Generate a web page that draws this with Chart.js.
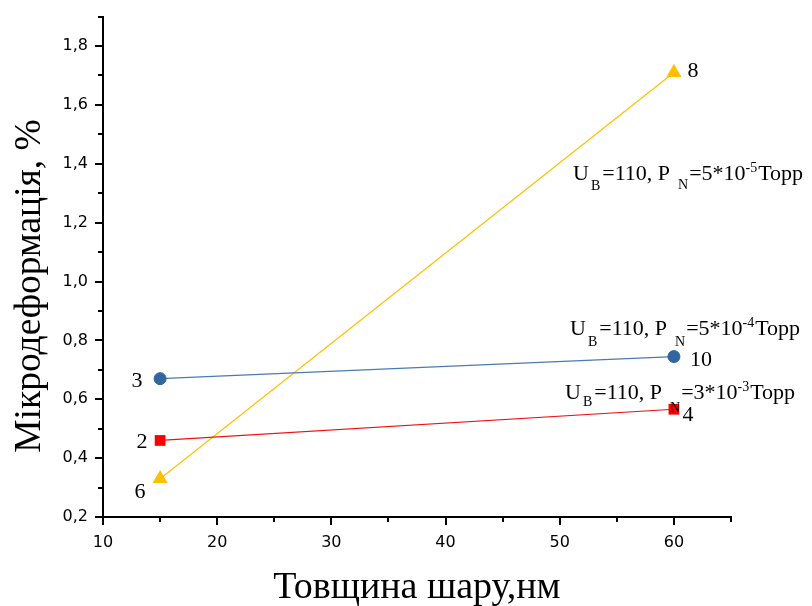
<!DOCTYPE html>
<html>
<head>
<meta charset="utf-8">
<script src="https://cdn.jsdelivr.net/npm/chart.js@4.4.1/dist/chart.umd.min.js"></script>
<style>
  body { margin: 0; background: #fff; }
  canvas { display: block; }
</style>
</head>
<body>
<canvas id="chart" width="812" height="606"></canvas>
<script>
// thickness of the layer, nm
const thickness = [15, 60];
// microstrain, % for each pressure
const strainP5e4 = [0.67, 0.745];
const strainP3e3 = [0.46, 0.566];
const strainP5e5 = [0.33, 1.71];
// sample numbers written next to the points
const labelsP5e4 = ['3', '10'];
const labelsP3e3 = ['2', '4'];
const labelsP5e5 = ['6', '8'];

const xTicks = [10, 20, 30, 40, 50, 60];
const xMinor = [15, 25, 35, 45, 55, 65];
const yTicks = [0.2, 0.4, 0.6, 0.8, 1.0, 1.2, 1.4, 1.6, 1.8];
const yMinor = [0.3, 0.5, 0.7, 0.9, 1.1, 1.3, 1.5, 1.7, 1.9];

const serif = '"Liberation Serif", "Times New Roman", serif';
const sans = '"DejaVu Sans", Arial, sans-serif';

function toPoints(ys) {
    return thickness.map((x, i) => ({ x: x, y: ys[i] }));
}

// offsets of the sample numbers from their points
const numOffsets = {
    0: [[-23, 8], [27, 9]],
    1: [[-18, 8], [14, 12]],
    2: [[-20, 19], [19, 4]]
};
const numLabels = [labelsP5e4, labelsP3e3, labelsP5e5];

// condition captions: U_B=110, P_N=...
const captions = [
    { x: 573, y: 180, pow: '-5', mant: '5', subB: 10, subN: 9 },
    { x: 570, y: 335, pow: '-4', mant: '5', subB: 11, subN: 11 },
    { x: 565, y: 399, pow: '-3', mant: '3', subB: 7, subN: 13 }
];

function drawRich(ctx, x, y, segs) {
    segs.forEach(s => {
        x += s.gap || 0;
        const small = s.sub !== undefined || s.sup !== undefined;
        ctx.font = (small ? '14px ' : '22px ') + serif;
        const dy = s.sub !== undefined ? s.sub : (s.sup !== undefined ? s.sup : 0);
        ctx.fillText(s.t, x, y + dy);
        x += ctx.measureText(s.t).width;
    });
}

const extras = {
    id: 'extras',
    afterDraw(chart) {
        const ctx = chart.ctx;
        const xs = chart.scales.x;
        const ys = chart.scales.y;
        ctx.save();

        // minor ticks
        ctx.strokeStyle = '#000';
        ctx.lineWidth = 2;
        ctx.beginPath();
        xMinor.forEach(v => {
            const px = Math.round(xs.getPixelForValue(v));
            ctx.moveTo(px, ys.bottom);
            ctx.lineTo(px, ys.bottom + 5);
        });
        yMinor.forEach(v => {
            const py = Math.round(ys.getPixelForValue(v));
            ctx.moveTo(xs.left, py);
            ctx.lineTo(xs.left - 5, py);
        });
        ctx.stroke();

        // axis titles
        ctx.fillStyle = '#000';
        ctx.textAlign = 'center';
        ctx.textBaseline = 'alphabetic';
        ctx.font = '38px ' + serif;
        ctx.fillText('Товщина шару,нм', 417, 598);
        ctx.save();
        ctx.translate(40, 286);
        ctx.rotate(-Math.PI / 2);
        ctx.font = '37.5px ' + serif;
        ctx.fillText('Мікродеформація, %', 0, 0);
        ctx.restore();

        // sample numbers
        ctx.font = '22px ' + serif;
        chart.data.datasets.forEach((ds, di) => {
            ds.data.forEach((p, i) => {
                const off = numOffsets[di][i];
                const px = xs.getPixelForValue(p.x) + off[0];
                const py = ys.getPixelForValue(p.y) + off[1];
                ctx.fillText(numLabels[di][i], px, py);
            });
        });

        // captions
        ctx.textAlign = 'left';
        captions.forEach(c => {
            drawRich(ctx, c.x, c.y, [
                { t: 'U' },
                { t: 'B', sub: c.subB, gap: 2 },
                { t: '=110, P', gap: 2 },
                { t: 'N', sub: c.subN, gap: 8 },
                { t: '=' + c.mant + '*10', gap: 1 },
                { t: c.pow, sup: -8 },
                { t: 'Торр', gap: 1 }
            ]);
        });
        ctx.restore();
    }
};

new Chart(document.getElementById('chart'), {
    type: 'scatter',
    data: {
        datasets: [
            {
                data: toPoints(strainP5e4),
                showLine: true,
                borderColor: '#4a7ab2',
                borderWidth: 1.2,
                pointStyle: 'circle',
                pointRadius: 6,
                pointBackgroundColor: '#30659f',
                pointBorderColor: '#30659f',
                pointBorderWidth: 1
            },
            {
                data: toPoints(strainP3e3),
                showLine: true,
                borderColor: '#f01010',
                borderWidth: 1.2,
                pointStyle: 'rect',
                pointRadius: 7.6,
                pointBackgroundColor: '#ff0000',
                pointBorderColor: '#ff0000',
                pointBorderWidth: 0
            },
            {
                data: toPoints(strainP5e5),
                showLine: true,
                borderColor: '#ffc000',
                borderWidth: 1.2,
                pointStyle: 'triangle',
                pointRadius: 8.7,
                pointBackgroundColor: '#ffc000',
                pointBorderColor: '#ffc000',
                pointBorderWidth: 0
            }
        ]
    },
    options: {
        responsive: false,
        animation: false,
        clip: false,
        layout: { padding: { top: 12, right: 81, left: 0, bottom: 0 } },
        plugins: {
            legend: { display: false },
            tooltip: { enabled: false }
        },
        scales: {
            x: {
                type: 'linear',
                min: 10,
                max: 65,
                afterFit: s => { s.height = 89; },
                afterBuildTicks: s => { s.ticks = xTicks.map(v => ({ value: v })); },
                grid: {
                    drawOnChartArea: false,
                    drawTicks: true,
                    tickLength: 8,
                    color: '#000',
                    lineWidth: 2
                },
                border: { display: true, color: '#000', width: 2 },
                ticks: {
                    color: '#000',
                    padding: 8,
                    font: { family: sans, size: 16 },
                    maxRotation: 0
                }
            },
            y: {
                type: 'linear',
                min: 0.2,
                max: 1.9,
                afterFit: s => { s.width = 103; },
                afterBuildTicks: s => { s.ticks = yTicks.map(v => ({ value: v })); },
                grid: {
                    drawOnChartArea: false,
                    drawTicks: true,
                    tickLength: 8,
                    color: '#000',
                    lineWidth: 2
                },
                border: { display: true, color: '#000', width: 2 },
                ticks: {
                    color: '#000',
                    padding: 7,
                    font: { family: sans, size: 16 },
                    callback: v => v.toFixed(1).replace('.', ',')
                }
            }
        }
    },
    plugins: [extras]
});
</script>
</body>
</html>
